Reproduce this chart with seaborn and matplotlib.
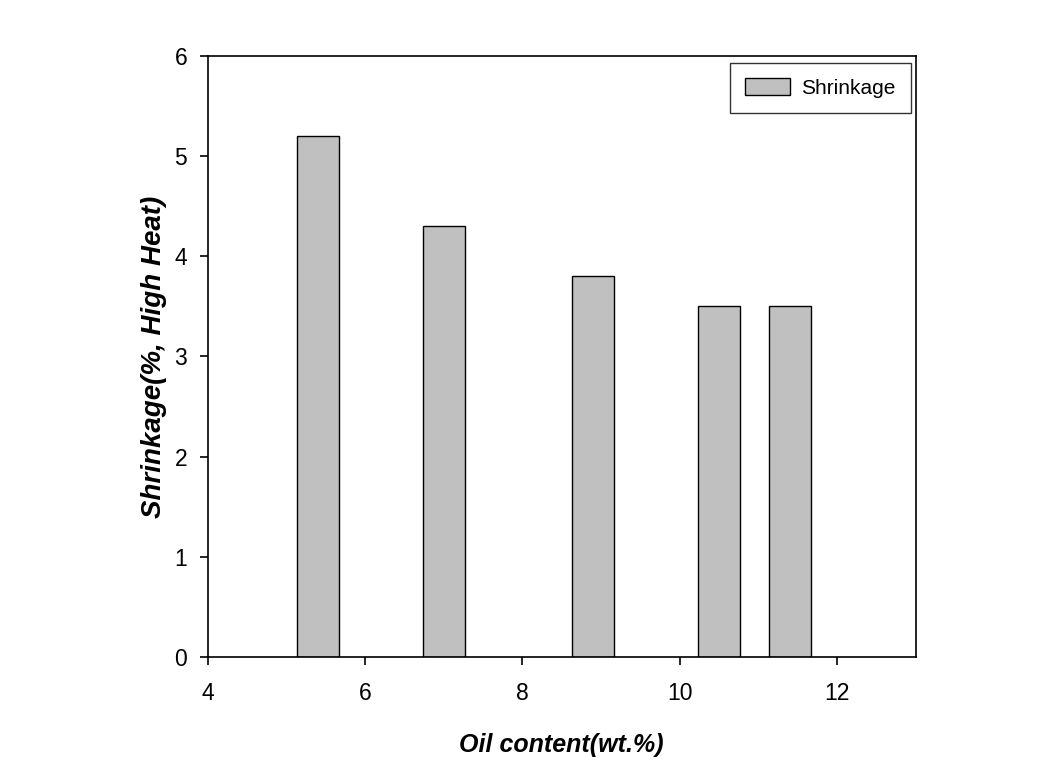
import matplotlib
matplotlib.use("Agg")
import matplotlib.pyplot as plt
import seaborn as sns
import pandas as pd

oil_content = [5.4, 7.0, 8.9, 10.5, 11.4]
shrinkage = [5.2, 4.3, 3.8, 3.5, 3.5]
x_ticks = [4, 6, 8, 10, 12]
y_ticks = [0, 1, 2, 3, 4, 5, 6]

sns.set_theme(style="white")
plt.rcParams['font.family'] = ['Liberation Sans', 'DejaVu Sans']
plt.rcParams['text.color'] = 'black'
plt.rcParams['axes.labelcolor'] = 'black'

df = pd.DataFrame({"oil": oil_content, "shrink": shrinkage})

fig = plt.figure(figsize=(10.56, 7.8), dpi=100)
ax = fig.add_axes([0.197, 0.158, 0.670, 0.770])

sns.barplot(data=df, x="oil", y="shrink", native_scale=True, color="#c0c0c0",
            edgecolor="black", linewidth=1.0, width=0.6, saturation=1,
            label="Shrinkage", ax=ax, errorbar=None)

ax.set_xlim(4, 13)
ax.set_ylim(0, 6)
ax.set_xticks(x_ticks)
ax.set_yticks(y_ticks)
ax.set_xticklabels([str(t) for t in x_ticks])
ax.set_yticklabels([str(t) for t in y_ticks])
ax.tick_params(axis="both", direction="out", length=6, width=1.2, labelsize=16.5,
               bottom=True, left=True, colors="black")
ax.tick_params(axis="x", pad=12)
ax.tick_params(axis="y", pad=9)
for s in ax.spines.values():
    s.set_color("black")
    s.set_linewidth(1.2)
    s.set_visible(True)

ax.set_xlabel("Oil content(wt.%)", fontsize=18, fontweight="bold", fontstyle="italic",
              labelpad=20.5, color="black")
ax.set_ylabel("Shrinkage(%, High Heat)", fontsize=20, fontweight="bold", fontstyle="italic",
              labelpad=5.5, color="black")

leg = ax.legend(loc="upper right", frameon=True, fancybox=False, fontsize=15,
                edgecolor="black", borderpad=0.72, handlelength=2.16, handleheight=0.91,
                handletextpad=0.53, bbox_to_anchor=(0.993, 0.989), borderaxespad=0)
leg.get_frame().set_linewidth(1.0)
for t in leg.get_texts():
    t.set_color("black")

fig.savefig("out.png", dpi=100)
